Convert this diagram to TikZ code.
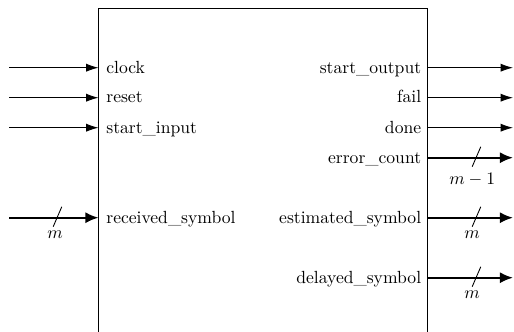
\documentclass[tikz,border=0pt]{standalone}
\usetikzlibrary{arrows.meta,fit}
\begin{document}
\begin{tikzpicture}[x=0.5682pt,y=-0.5682pt,
  blockbox/.style={draw,line width=0.5pt,inner sep=0pt},
  sig/.style={line width=0.5pt,-{Latex[length=7pt,width=4.6pt]}},
  bus/.style={line width=1.2pt,-{Latex[length=7.5pt,width=6.4pt]}},
  busmark/.style={line width=0.5pt},
  pinin/.style={anchor=base west,inner sep=0pt},
  pinout/.style={anchor=base east,inner sep=0pt},
  widthlabel/.style={inner sep=0pt}]
\useasboundingbox (0,0) rectangle (514,332);
\clip (0,0) rectangle (514,332);

% the block itself
\node[blockbox, fit={(98.5,8.3) (427.5,345)}] (blk) {};

% single-bit inputs
\foreach \name/\row/\txt in {clock/67.7/clock, reset/97.7/reset, startin/127.7/start\_input} {
  \coordinate (\name-src) at (9.3,\row);
  \coordinate (\name-dst) at (98.5,\row);
  \node[pinin] (\name-lbl) at (106,\row+5.3) {\txt};
  \draw[sig] (\name-src) -- (\name-dst);
}

% single-bit outputs
\foreach \name/\row/\txt in {startout/67.7/start\_output, fail/97.7/fail, done/127.7/done} {
  \coordinate (\name-src) at (427.5,\row);
  \coordinate (\name-dst) at (513,\row);
  \node[pinout] (\name-lbl) at (421.5,\row+5.3) {\txt};
  \draw[sig] (\name-src) -- (\name-dst);
}

% m-bit input bus
\coordinate (rx-src) at (9.3,217.7);
\coordinate (rx-dst) at (98.5,217.7);
\node[pinin] (rx-lbl) at (106,223) {received\_symbol};
\draw[bus] (rx-src) -- (rx-dst);
\coordinate (rx-m1) at (53.2,226.7);
\coordinate (rx-m2) at (61.8,206.7);
\draw[busmark] (rx-m1) -- (rx-m2);
\node[widthlabel] (rx-w) at (55,234.3) {$m$};

% output buses
\foreach \name/\row/\txt/\busw/\dy in {
    err/157.7/error\_count/m-1/21.6,
    est/217.7/estimated\_symbol/m/16.6,
    dly/277.7/delayed\_symbol/m/16.6} {
  \coordinate (\name-src) at (427.5,\row);
  \coordinate (\name-dst) at (513,\row);
  \node[pinout] (\name-lbl) at (421.5,\row+5.3) {\txt};
  \draw[bus] (\name-src) -- (\name-dst);
  \coordinate (\name-m1) at (472.2,\row+9);
  \coordinate (\name-m2) at (480.8,\row-11);
  \draw[busmark] (\name-m1) -- (\name-m2);
  \node[widthlabel] (\name-w) at (472.2,\row+\dy) {$\busw$};
}
\end{tikzpicture}
\end{document}
